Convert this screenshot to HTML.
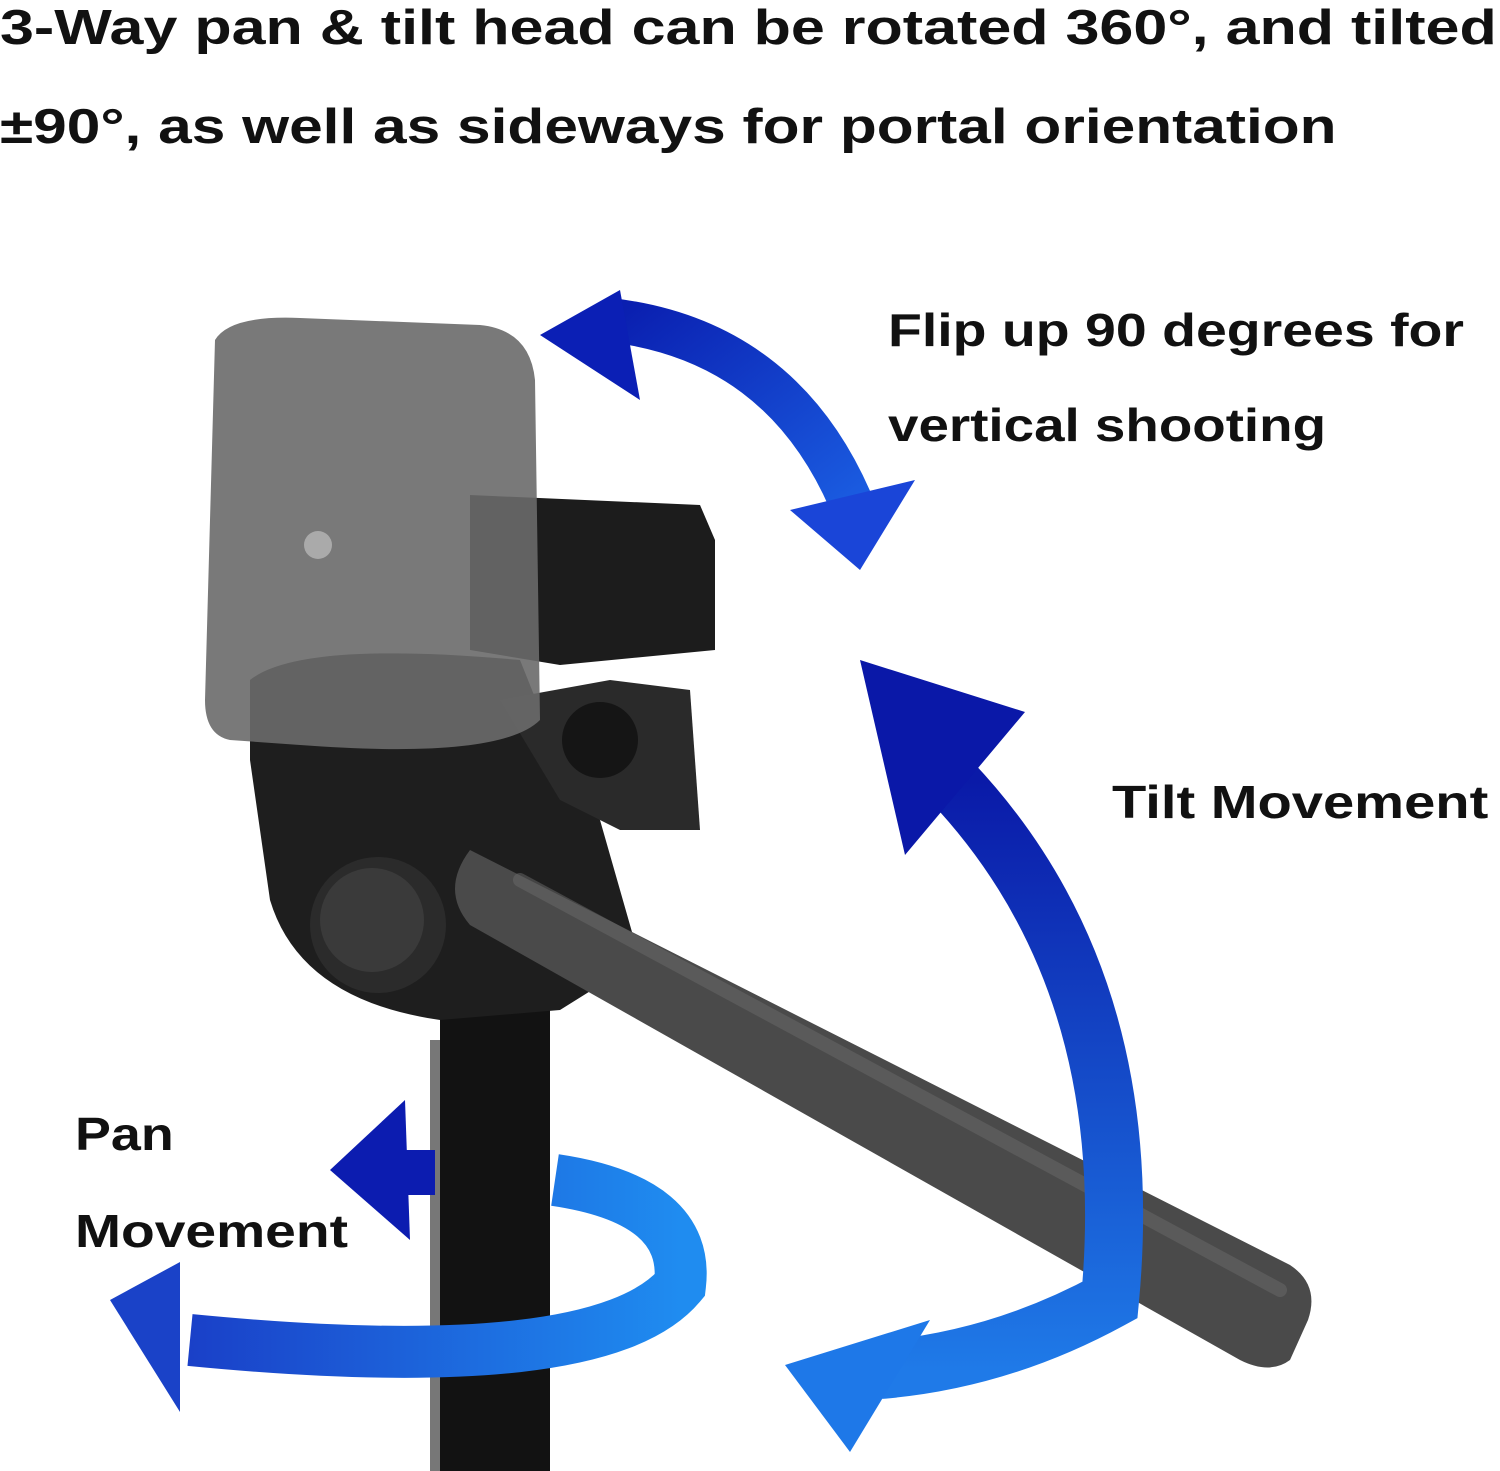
<!DOCTYPE html>
<html><head><meta charset="utf-8">
<style>
html,body{margin:0;padding:0;background:#fff;}
body{width:1500px;height:1471px;overflow:hidden;position:relative;font-family:"Liberation Sans",sans-serif;}
.t{position:absolute;font-weight:bold;color:#111;white-space:nowrap;transform-origin:0 50%;}
svg{position:absolute;left:0;top:0;}
</style></head><body>
<svg width="1500" height="1471" viewBox="0 0 1500 1471">
<defs>
<linearGradient id="b1" x1="0" y1="0" x2="1" y2="1"><stop offset="0" stop-color="#0a1fb0"/><stop offset="1" stop-color="#1a5be0"/></linearGradient>
<linearGradient id="b2" x1="0" y1="0" x2="0" y2="1"><stop offset="0" stop-color="#0a1aa8"/><stop offset="1" stop-color="#1f7ae8"/></linearGradient>
<linearGradient id="b3" x1="1" y1="0" x2="0" y2="0"><stop offset="0" stop-color="#1f8cf0"/><stop offset="1" stop-color="#1a40c8"/></linearGradient>
</defs>
<rect x="440" y="1000" width="110" height="471" fill="#121212"/>
<rect x="430" y="1040" width="10" height="431" fill="#777"/>
<path d="M250 680 Q300 640 520 660 L560 760 L600 820 L640 960 L560 1010 L440 1020 Q300 1000 270 900 L250 760 Z" fill="#1e1e1e"/>
<path d="M500 700 L610 680 L690 690 L700 830 L620 830 L560 800 Z" fill="#2a2a2a"/>
<circle cx="600" cy="740" r="38" fill="#151515"/>
<path d="M470 495 L700 505 L715 540 L715 650 L560 665 L470 650 Z" fill="#1c1c1c"/>
<path d="M470 850 L1290 1265 Q1320 1285 1308 1320 L1290 1360 Q1270 1375 1240 1360 L470 925 Q440 890 470 850 Z" fill="#4a4a4a"/>
<line x1="520" y1="880" x2="1280" y2="1290" stroke="#6a6a6a" stroke-width="14" stroke-linecap="round" opacity="0.5"/>
<circle cx="378" cy="925" r="68" fill="#2b2b2b"/>
<circle cx="372" cy="920" r="52" fill="#3a3a3a"/>
<path d="M215 340 Q230 315 300 318 L480 325 Q530 330 535 380 L540 720 Q500 760 300 745 L230 740 Q205 735 205 700 Z" fill="#6a6a6a" opacity="0.9"/>
<circle cx="318" cy="545" r="14" fill="#aaa"/>
<path d="M610 320 Q780 340 850 500" fill="none" stroke="url(#b1)" stroke-width="44"/>
<polygon points="540,335 620,290 640,400" fill="#0b1fb5"/>
<polygon points="790,510 915,480 860,570" fill="#1a45d8"/>
<path d="M950 780 Q1140 980 1110 1300 Q1000 1360 880 1370" fill="none" stroke="url(#b2)" stroke-width="58"/>
<polygon points="860,660 1025,712 905,855" fill="#0a18a8"/>
<polygon points="785,1365 930,1320 850,1452" fill="#1e78e8"/>
<path d="M555 1180 Q690 1200 680 1285 Q600 1380 190 1340" fill="none" stroke="url(#b3)" stroke-width="52"/>
<polygon points="110,1300 180,1262 180,1412" fill="#1a42c8"/>
<polygon points="330,1170 405,1100 410,1240" fill="#0c1cb0"/>
<rect x="405" y="1150" width="30" height="45" fill="#0c1cb0"/>
</svg>
<div class="t" style="left:0;top:-2px;font-size:49px;line-height:60px;transform:scaleX(1.245);">3-Way pan &amp; tilt head can be rotated 360°, and tilted</div>
<div class="t" style="left:0;top:97px;font-size:49px;line-height:60px;transform:scaleX(1.233);">±90°, as well as sideways for portal orientation</div>
<div class="t" style="left:888px;top:302px;font-size:46px;line-height:56px;transform:scaleX(1.205);">Flip up 90 degrees for</div>
<div class="t" style="left:888px;top:397px;font-size:46px;line-height:56px;transform:scaleX(1.19);">vertical shooting</div>
<div class="t" style="left:1112px;top:774px;font-size:46px;line-height:56px;transform:scaleX(1.22);">Tilt Movement</div>
<div class="t" style="left:75px;top:1106px;font-size:46px;line-height:56px;transform:scaleX(1.17);">Pan</div>
<div class="t" style="left:75px;top:1203px;font-size:46px;line-height:56px;transform:scaleX(1.2);">Movement</div>
</body></html>
